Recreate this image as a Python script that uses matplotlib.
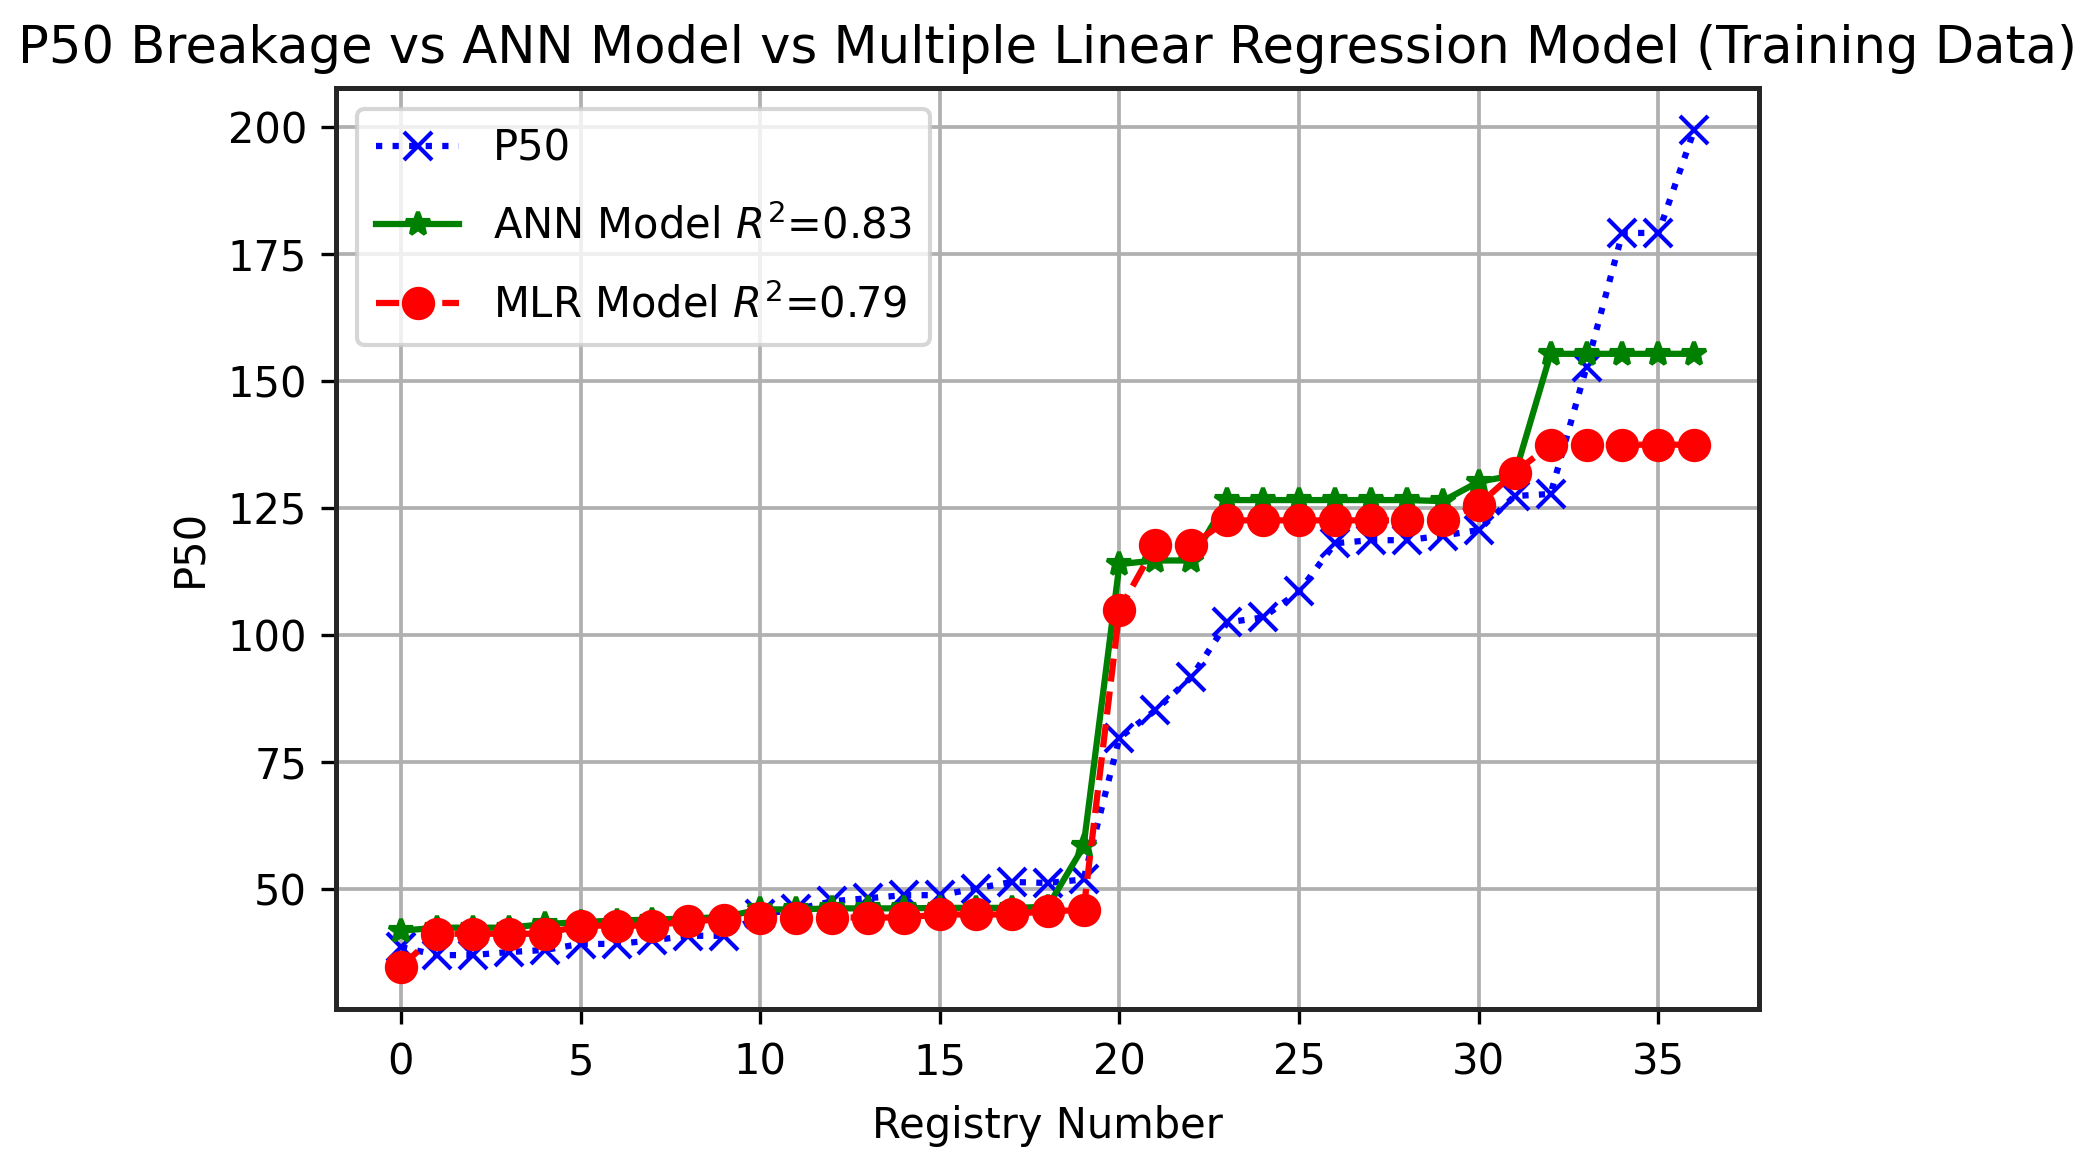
import numpy as np
import matplotlib
matplotlib.use('Agg')
import matplotlib.pyplot as plt

# Значения (обучающая выборка)
registry = np.arange(37)

p50 = [38.6, 37.0, 37.0, 37.6, 38.0, 39.2, 39.2, 39.9, 40.8, 40.8,
       45.0, 46.0, 47.6, 48.2, 48.8, 48.8, 50.1, 51.4, 51.2, 51.9,
       79.8, 85.2, 91.7, 102.5, 103.5, 108.6, 118.1, 118.7, 118.7, 119.6,
       120.7, 127.4, 127.8, 152.8, 179.2, 179.2, 199.5]

ann = [41.8, 42.4, 42.4, 42.4, 43.1, 43.5, 43.8, 44.0, 44.2, 44.5,
       46.0, 46.0, 46.2, 46.2, 46.2, 46.3, 46.3, 46.3, 46.5, 58.4,
       114.0, 114.7, 114.7, 126.6, 126.6, 126.6, 126.6, 126.6, 126.6, 126.4,
       130.2, 131.5, 155.4, 155.4, 155.4, 155.4, 155.4]

mlr = [34.7, 41.2, 41.2, 41.2, 41.2, 42.8, 42.8, 42.8, 43.7, 44.0,
       44.4, 44.4, 44.4, 44.4, 44.4, 45.0, 45.0, 45.0, 45.7, 45.8,
       105.0, 117.7, 117.7, 122.6, 122.6, 122.6, 122.6, 122.6, 122.6, 122.6,
       125.7, 132.0, 137.5, 137.5, 137.5, 137.5, 137.5]

r2_ann = 0.83
r2_mlr = 0.79

fig, ax = plt.subplots(figsize=(2089 / 300, 1158 / 300), dpi=300)
fig.subplots_adjust(left=0.161, right=0.842, bottom=0.129, top=0.924)

ax.plot(registry, p50, 'b:', marker='x', markersize=6.5, label='P50')
ax.plot(registry, ann, 'g-', marker='*', markersize=6, label='ANN Model $R^2$=%.2f' % r2_ann)
ax.plot(registry, mlr, 'r--', marker='o', markersize=7, label='MLR Model $R^2$=%.2f' % r2_mlr)

ax.set_yticks([50, 75, 100, 125, 150, 175, 200])
ax.grid(True, color='#b0b0b0', linewidth=0.9)
ax.set_axisbelow(True)
for s in ax.spines.values():
    s.set_linewidth(1.2)
    s.set_color('#262626')

ax.set_title('P50 Breakage vs ANN Model vs Multiple Linear Regression Model (Training Data)', fontsize=12.3)
ax.set_xlabel('Registry Number', fontsize=10, labelpad=5)
ax.set_ylabel('P50', fontsize=10)
ax.tick_params(labelsize=10)
ax.tick_params(axis='x', pad=4.5)
ax.legend(loc='upper left', fontsize=10, borderpad=0.45, labelspacing=0.86)

fig.savefig('out.png', dpi=300)
